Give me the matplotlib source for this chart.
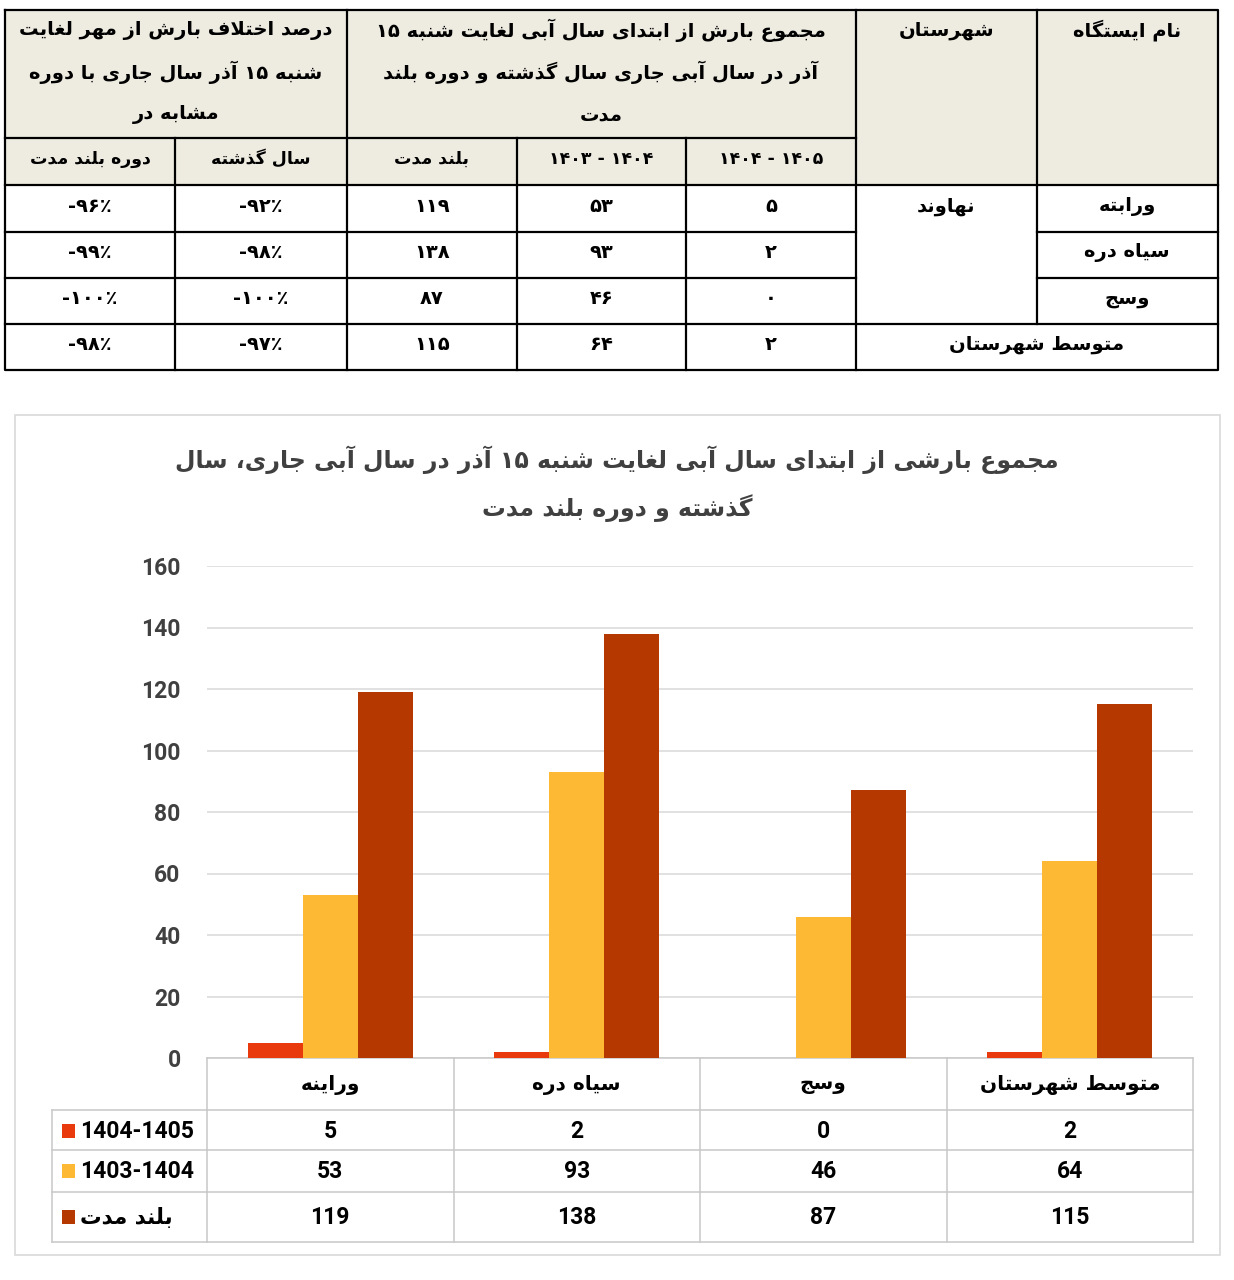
import re
import matplotlib
matplotlib.use('Agg')
import matplotlib.pyplot as plt
from matplotlib.patches import Rectangle
from matplotlib.transforms import blended_transform_factory

# ---- data ----
categories = ['وراینه', 'سیاه دره', 'وسج', 'متوسط شهرستان']
series_names = ['1404-1405', '1403-1404', 'بلند مدت']
rain_1404_1405 = [5, 2, 0, 2]
rain_1403_1404 = [53, 93, 46, 64]
rain_long_term = [119, 138, 87, 115]
pct_last_year = [-92, -98, -100, -97]
pct_long_term = [-96, -99, -100, -98]
table_stations = ['ورابته', 'سیاه دره', 'وسج']
county = 'نهاوند'
y_ticks = [0, 20, 40, 60, 80, 100, 120, 140, 160]

colors = ['#E83A0C', '#FDB933', '#B53800']

# ---- small persian shaper (no bidi libs available) ----
FORMS = {
    'ا': (0xFE8D, 0xFE8E), 'آ': (0xFE81, 0xFE82),
    'ب': (0xFE8F, 0xFE90, 0xFE91, 0xFE92), 'پ': (0xFB56, 0xFB57, 0xFB58, 0xFB59),
    'ت': (0xFE95, 0xFE96, 0xFE97, 0xFE98), 'ث': (0xFE99, 0xFE9A, 0xFE9B, 0xFE9C),
    'ج': (0xFE9D, 0xFE9E, 0xFE9F, 0xFEA0), 'چ': (0xFB7A, 0xFB7B, 0xFB7C, 0xFB7D),
    'ح': (0xFEA1, 0xFEA2, 0xFEA3, 0xFEA4), 'خ': (0xFEA5, 0xFEA6, 0xFEA7, 0xFEA8),
    'د': (0xFEA9, 0xFEAA), 'ذ': (0xFEAB, 0xFEAC), 'ر': (0xFEAD, 0xFEAE),
    'ز': (0xFEAF, 0xFEB0), 'ژ': (0xFB8A, 0xFB8B),
    'س': (0xFEB1, 0xFEB2, 0xFEB3, 0xFEB4), 'ش': (0xFEB5, 0xFEB6, 0xFEB7, 0xFEB8),
    'ص': (0xFEB9, 0xFEBA, 0xFEBB, 0xFEBC), 'ض': (0xFEBD, 0xFEBE, 0xFEBF, 0xFEC0),
    'ط': (0xFEC1, 0xFEC2, 0xFEC3, 0xFEC4), 'ظ': (0xFEC5, 0xFEC6, 0xFEC7, 0xFEC8),
    'ع': (0xFEC9, 0xFECA, 0xFECB, 0xFECC), 'غ': (0xFECD, 0xFECE, 0xFECF, 0xFED0),
    'ف': (0xFED1, 0xFED2, 0xFED3, 0xFED4), 'ق': (0xFED5, 0xFED6, 0xFED7, 0xFED8),
    'ک': (0xFB8E, 0xFB8F, 0xFB90, 0xFB91), 'گ': (0xFB92, 0xFB93, 0xFB94, 0xFB95),
    'ل': (0xFEDD, 0xFEDE, 0xFEDF, 0xFEE0), 'م': (0xFEE1, 0xFEE2, 0xFEE3, 0xFEE4),
    'ن': (0xFEE5, 0xFEE6, 0xFEE7, 0xFEE8), 'ه': (0xFEE9, 0xFEEA, 0xFEEB, 0xFEEC),
    'و': (0xFEED, 0xFEEE), 'ی': (0xFBFC, 0xFBFD, 0xFBFE, 0xFBFF),
}


def shape(s):
    out = []
    i = 0
    while i < len(s):
        c = s[i]
        if c not in FORMS:
            out.append(c)
            i += 1
            continue
        prev = s[i - 1] if i > 0 else None
        join_prev = prev in FORMS and len(FORMS[prev]) == 4
        if c == 'ل' and i + 1 < len(s) and s[i + 1] in 'اآ':
            lig = (0xFEFB, 0xFEFC) if s[i + 1] == 'ا' else (0xFEF5, 0xFEF6)
            out.append(chr(lig[1] if join_prev else lig[0]))
            i += 2
            continue
        nxt = s[i + 1] if i + 1 < len(s) else None
        f = FORMS[c]
        join_next = len(f) == 4 and nxt in FORMS
        if join_prev and join_next:
            k = 3
        elif join_prev:
            k = 1
        elif join_next:
            k = 2
        else:
            k = 0
        out.append(chr(f[k]))
        i += 1
    return ''.join(out)


def fa(s):
    t = shape(s)
    parts = re.findall(r'[0-9۰-۹]+|[^0-9۰-۹]+', t)
    return ''.join(p if p[0] in '0123456789۰۱۲۳۴۵۶۷۸۹' else p[::-1]
                   for p in reversed(parts))


def fdig(v):
    return str(v).translate(str.maketrans('0123456789', '۰۱۲۳۴۵۶۷۸۹'))


FA = 'DejaVu Sans'
LAT = 'Roboto'

fig = plt.figure(figsize=(12.34, 12.8), dpi=100)
ov = fig.add_axes([0, 0, 1, 1], zorder=0)
ov.set_xlim(0, 1234)
ov.set_ylim(1280, 0)
ov.axis('off')

# ---- top table ----
cols = [5, 175, 347, 517, 686, 856, 1037, 1218]
rows = [10, 138, 185, 232, 278, 324, 370]
ov.add_patch(Rectangle((5, 10), 1213, 175, fc='#EEECE1', ec='none'))
lk = dict(color='black', lw=1.6)
ov.plot([5, 1218, 1218, 5, 5], [10, 10, 370, 370, 10], **lk)
ov.plot([5, 856], [138, 138], **lk)
ov.plot([5, 1218], [185, 185], **lk)
for yy in [232, 278]:
    ov.plot([5, 856], [yy, yy], **lk)
    ov.plot([1037, 1218], [yy, yy], **lk)
ov.plot([5, 1218], [324, 324], **lk)
for xx in [175, 517, 686]:
    ov.plot([xx, xx], [138, 370], **lk)
for xx in [347, 856]:
    ov.plot([xx, xx], [10, 370], **lk)
ov.plot([1037, 1037], [10, 324], **lk)

hk = dict(family=FA, weight='bold', fontsize=14, ha='center', va='center', color='black')
head_left = ['درصد اختلاف بارش از مهر لغایت', 'شنبه ۱۵ آذر سال جاری با دوره', 'مشابه در']
head_mid = ['مجموع بارش از ابتدای سال آبی لغایت شنبه ۱۵', 'آذر در سال آبی جاری سال گذشته و دوره بلند', 'مدت']
for line, yy in zip(head_left, [30, 72, 115]):
    ov.text(176, yy, fa(line), **hk)
for line, yy in zip(head_mid, [30, 72, 115]):
    ov.text(601, yy, fa(line), **hk)
ov.text(947, 30, fa('شهرستان'), **hk)
ov.text(1127, 30, fa('نام ایستگاه'), **hk)

sk = dict(family=FA, weight='bold', fontsize=12.5, ha='center', va='center', color='black')
sub = [fa('دوره بلند مدت'), fa('سال گذشته'), fa('بلند مدت'),
       fdig(1403) + ' - ' + fdig(1404), fdig(1404) + ' - ' + fdig(1405)]
for j, t in enumerate(sub):
    ov.text((cols[j] + cols[j + 1]) / 2, 159, t, **sk)

dk = dict(family=FA, weight='bold', fontsize=14, ha='center', va='center', color='black')
table_cols = [pct_long_term, pct_last_year, rain_long_term, rain_1403_1404, rain_1404_1405]
for i in range(4):
    yc = (rows[i + 2] + rows[i + 3]) / 2 - 2
    for j, col in enumerate(table_cols):
        v = col[i]
        t = '-' + fdig(-v) + '٪' if j < 2 else fdig(v)
        ov.text((cols[j] + cols[j + 1]) / 2, yc, t, **dk)
    if i < 3:
        ov.text(1127, yc, fa(table_stations[i]), **dk)
ov.text(946, 206, fa(county), **dk)
ov.text(1037, 345, fa('متوسط شهرستان'), **dk)

# ---- chart frame and title ----
ov.add_patch(Rectangle((15, 415), 1205, 840, fc='white', ec='#D9D9D9', lw=1.2))
tk = dict(family=FA, weight='bold', fontsize=17, ha='center', va='center', color='#404040')
ov.text(617, 460, fa('مجموع بارشی از ابتدای سال آبی لغایت شنبه ۱۵ آذر در سال آبی جاری، سال'), **tk)
ov.text(617, 508, fa('گذشته و دوره بلند مدت'), **tk)

# ---- bars ----
ax = fig.add_axes([207 / 1234, (1280 - 1058) / 1280, 986 / 1234, 492 / 1280], zorder=1)
ax.patch.set_alpha(0)
x = list(range(len(categories)))
w = 0.223
series = [rain_1404_1405, rain_1403_1404, rain_long_term]
for k, vals in enumerate(series):
    ax.bar([i + (k - 1) * w for i in x], vals, width=w, color=colors[k], zorder=3)
ax.set_xlim(-0.5, 3.5)
ax.set_ylim(0, 160)
ax.set_yticks(y_ticks)
ax.set_yticklabels([str(t) for t in y_ticks], family=LAT, weight='bold', fontsize=16.5, color='#404040')
ax.tick_params(axis='y', length=0, pad=19)
ax.set_xticks([])
for s in ax.spines.values():
    s.set_visible(False)
ax.grid(axis='y', color='#D9D9D9', lw=1.1, zorder=0)

# ---- data table below chart ----
tr = blended_transform_factory(ax.transData, ax.transAxes)
px = lambda y: (1058 - y) / 492.0
gk = dict(color='#C8C8C8', lw=1.1, clip_on=False)
for b in [-0.5, 0.5, 1.5, 2.5, 3.5]:
    ax.plot([b, b], [px(1058), px(1242)], transform=tr, **gk)
for yy in [1058, 1110, 1150, 1192, 1242]:
    ax.plot([-0.5, 3.5], [px(yy), px(yy)], transform=tr, **gk)
for yy in [1110, 1150, 1192, 1242]:
    ov.plot([52, 207], [yy, yy], color='#C8C8C8', lw=1.1)
ov.plot([52, 52], [1110, 1242], color='#C8C8C8', lw=1.1)

for i, c in enumerate(categories):
    ax.text(i, px(1085), fa(c), transform=tr, family=FA, weight='bold', fontsize=14.5,
            ha='center', va='center', color='black')
row_y = [1131, 1171, 1217]
for k, vals in enumerate(series):
    for i, v in enumerate(vals):
        ax.text(i, px(row_y[k]), str(v), transform=tr, family=LAT, weight='bold', fontsize=16.5,
                ha='center', va='center', color='black')
    ov.add_patch(Rectangle((62, row_y[k] - 7), 13, 14, fc=colors[k], ec='none'))
    name = series_names[k]
    if k == 2:
        ov.text(80, row_y[k], fa(name), family=FA, weight='bold', fontsize=15.5,
                ha='left', va='center', color='black')
    else:
        ov.text(80, row_y[k], name, family=LAT, weight='bold', fontsize=16.5,
                ha='left', va='center', color='black')

fig.savefig('out.png', dpi=100, facecolor='white')
